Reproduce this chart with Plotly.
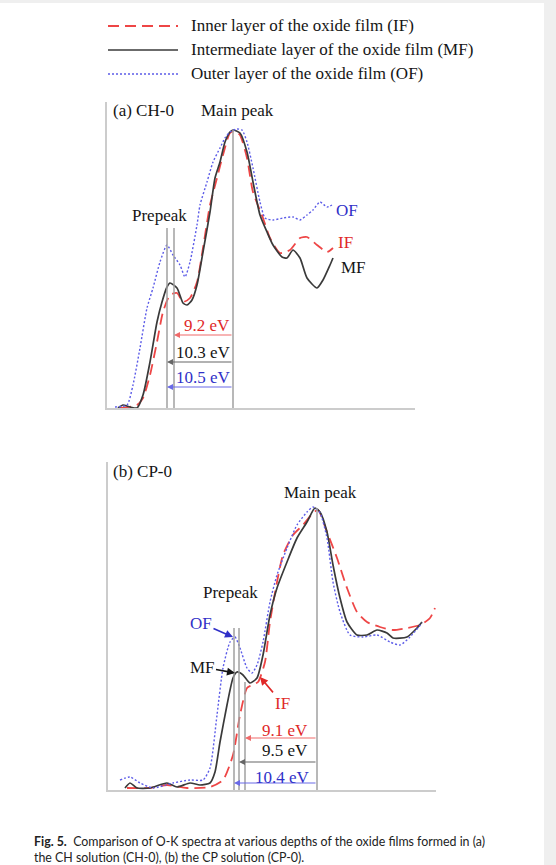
import plotly.graph_objects as go

W, H = 556, 865

# ---------------- Panel (a) CH-0 : arbitrary energy-loss units / arbitrary intensity
a_if_x = [13, 30, 36, 43, 50, 56, 63, 70, 76, 83, 90, 96, 103, 110, 116, 123, 128, 133, 140, 146, 156, 163, 173, 183, 193, 200, 210, 220, 226]
a_if_y = [0, 3, 10, 33, 66, 96, 113, 115, 106, 110, 126, 160, 203, 230, 253, 275, 277, 273, 250, 216, 190, 170, 155, 158, 170, 171, 163, 156, 160]
a_mf_x = [11, 16, 23, 30, 36, 43, 50, 55, 60, 63, 70, 76, 80, 85, 90, 96, 103, 108, 113, 118, 123, 126, 133, 140, 146, 153, 160, 166, 175, 180, 186, 193, 200, 210, 216, 223, 226]
a_mf_y = [0, 3, 1, 0, 13, 46, 86, 106, 121, 125, 120, 105, 103, 108, 123, 156, 196, 230, 246, 266, 276, 278, 275, 256, 226, 193, 176, 163, 151, 150, 158, 150, 130, 120, 128, 143, 150]
a_of_x = [8, 20, 26, 33, 40, 46, 53, 60, 66, 73, 78, 83, 90, 93, 100, 106, 113, 118, 123, 130, 135, 140, 146, 153, 158, 166, 176, 186, 193, 200, 206, 213, 220, 225]
a_of_y = [1, 3, 23, 60, 100, 120, 146, 163, 153, 143, 131, 146, 183, 203, 226, 246, 260, 270, 276, 279, 278, 266, 240, 206, 190, 188, 190, 191, 188, 193, 198, 206, 201, 203]

a_prepeak_lines = [60, 67]
a_prepeak_top = 180
a_main_x = 126
a_main_top = 278
a_shift_labels = ["9.2 eV", "10.3 eV", "10.5 eV"]
a_shift_tip = [67, 60, 60]
a_shift_y = [73, 46, 21]

# ---------------- Panel (b) CP-0
b_if_x = [19, 42, 59, 79, 102, 115, 125, 132, 139, 144, 150, 157, 162, 169, 175, 185, 195, 205, 210, 219, 229, 239, 249, 259, 272, 285, 299, 312, 322, 327]
b_if_y = [2, 2, 5, 2, 3, 10, 35, 75, 102, 105, 108, 128, 168, 208, 235, 255, 265, 277, 280, 258, 232, 202, 178, 168, 163, 160, 162, 165, 172, 182]
b_mf_x = [17, 22, 29, 42, 59, 69, 82, 92, 102, 107, 112, 119, 125, 129, 135, 142, 149, 155, 162, 169, 179, 189, 199, 207, 212, 219, 225, 232, 239, 249, 259, 269, 279, 285, 299, 309, 314]
b_mf_y = [2, 7, 2, 2, 7, 3, 7, 5, 7, 18, 48, 85, 112, 118, 115, 107, 112, 135, 175, 202, 228, 252, 268, 282, 278, 258, 225, 192, 168, 155, 155, 160, 157, 152, 153, 162, 168]
b_of_x = [12, 22, 32, 45, 65, 82, 95, 102, 109, 115, 122, 127, 132, 139, 144, 149, 155, 162, 169, 179, 189, 199, 205, 212, 219, 225, 232, 242, 255, 269, 282, 292, 302, 314]
b_of_y = [10, 13, 7, 2, 7, 10, 10, 22, 75, 122, 148, 153, 142, 122, 117, 125, 148, 188, 215, 242, 265, 278, 283, 277, 252, 208, 178, 155, 153, 155, 148, 145, 153, 167]

b_prepeak_lines = [126, 131, 137]
b_prepeak_top = [162, 162, 108]
b_main_x = 209
b_main_top = 282
b_shift_labels = ["9.1 eV", "9.5 eV", "10.4 eV"]
b_shift_tip = [137, 131, 126]
b_shift_y = [52, 28, 7]

series_names = ["Inner layer of the oxide film (IF)",
                "Intermediate layer of the oxide film (MF)",
                "Outer layer of the oxide film (OF)"]

RED, BLACK, BLUE = "#ee4646", "#3a3a3a", "#5c5ce8"
RED_T, BLACK_T, BLUE_T = "#e02828", "#151515", "#3030c8"
GRAY = "#a0a0a0"
AX = "#cccccc"
SERIF = "Liberation Serif, Times New Roman, serif"
FS = 17

styles = [dict(color=RED, width=1.8, dash="11px,6px"),
          dict(color=BLACK, width=1.7),
          dict(color=BLUE, width=1.4, dash="2px,2px")]

fig = go.Figure()
for (xs, ys), st in zip([(a_if_x, a_if_y), (a_mf_x, a_mf_y), (a_of_x, a_of_y)], styles):
    fig.add_trace(go.Scatter(x=xs, y=ys, mode="lines", line=dict(shape="spline", smoothing=0.6, **st),
                             xaxis="x", yaxis="y", showlegend=False, cliponaxis=False, hoverinfo="skip"))
for (xs, ys), st in zip([(b_if_x, b_if_y), (b_mf_x, b_mf_y), (b_of_x, b_of_y)], styles):
    fig.add_trace(go.Scatter(x=xs, y=ys, mode="lines", line=dict(shape="spline", smoothing=0.6, **st),
                             xaxis="x2", yaxis="y2", showlegend=False, cliponaxis=False, hoverinfo="skip"))

shapes = []
ann = []

def px(x):
    return x / W

def py(y):
    return 1 - y / H

# page background strips
shapes.append(dict(type="rect", xref="paper", yref="paper", x0=0, x1=1, y0=py(3), y1=1,
                   fillcolor="#efefef", line=dict(width=0), layer="below"))
shapes.append(dict(type="rect", xref="paper", yref="paper", x0=px(544), x1=1, y0=0, y1=1,
                   fillcolor="#efefef", line=dict(width=0), layer="below"))

# reference lines panel a
for xv in a_prepeak_lines:
    shapes.append(dict(type="line", xref="x", yref="y", x0=xv, x1=xv, y0=0, y1=a_prepeak_top,
                       line=dict(color=GRAY, width=1.5)))
shapes.append(dict(type="line", xref="x", yref="y", x0=a_main_x, x1=a_main_x, y0=0, y1=a_main_top,
                   line=dict(color=GRAY, width=1.5)))
# reference lines panel b
for xv, tv in zip(b_prepeak_lines, b_prepeak_top):
    shapes.append(dict(type="line", xref="x2", yref="y2", x0=xv, x1=xv, y0=0, y1=tv,
                       line=dict(color=GRAY, width=1.5)))
shapes.append(dict(type="line", xref="x2", yref="y2", x0=b_main_x, x1=b_main_x, y0=0, y1=b_main_top,
                   line=dict(color=GRAY, width=1.5)))

text_cols = [RED_T, BLACK_T, BLUE_T]
arrow_cols = ["#ef6a6a", "#666666", "#6a6ae8"]

# energy-shift arrows + labels
for lab, tip, yv, tc, acol in zip(a_shift_labels, a_shift_tip, a_shift_y, text_cols, arrow_cols):
    ann.append(dict(x=tip, y=yv, ax=a_main_x, ay=yv, xref="x", yref="y", axref="x", ayref="y",
                    text="", showarrow=True, arrowhead=2, arrowsize=1, arrowwidth=1.2, arrowcolor=acol))
    ann.append(dict(x=(a_main_x + tip) / 2 + 3, y=yv + 10, xref="x", yref="y", text=lab, showarrow=False,
                    font=dict(family=SERIF, size=FS, color=tc), xanchor="center", yanchor="middle"))
for lab, tip, yv, tc, acol in zip(b_shift_labels, b_shift_tip, b_shift_y, text_cols, arrow_cols):
    ann.append(dict(x=tip, y=yv, ax=b_main_x, ay=yv, xref="x2", yref="y2", axref="x2", ayref="y2",
                    text="", showarrow=True, arrowhead=2, arrowsize=1, arrowwidth=1.2, arrowcolor=acol))
for lab, xv, yv, tc in zip(b_shift_labels, [177, 177, 174], [60, 40, 13], text_cols):
    ann.append(dict(x=xv, y=yv, xref="x2", yref="y2", text=lab, showarrow=False,
                    font=dict(family=SERIF, size=FS, color=tc), xanchor="center", yanchor="middle"))

def label(x, y, t, ref, color=BLACK_T, xanchor="center", angle=0):
    xr, yr = ref
    ann.append(dict(x=x, y=y, xref=xr, yref=yr, text=t, showarrow=False, textangle=angle,
                    font=dict(family=SERIF, size=FS, color=color), xanchor=xanchor, yanchor="middle"))

A = ("x", "y")
B = ("x2", "y2")
label(4, 298, "(a) CH-0", A, xanchor="left")
label(130, 298, "Main peak", A)
label(52, 193, "Prepeak", A)
label(240, 198, "OF", A, BLUE_T)
label(238, 166, "IF", A, RED_T)
label(246, 141, "MF", A, BLACK_T)
label(156, -10, "Energy loss (eV)", A)
label(-15, 152, "Arbitrary Unit", A, angle=-90)

label(3, 318, "(b) CP-0", B, xanchor="left")
label(212, 297, "Main peak", B)
label(122, 198, "Prepeak", B)
label(165, -12, "Energy loss (eV)", B)
label(-16, 170, "Arbitrary Unit", B, angle=-90)

# pointer labels in panel b
for t, tx, ty, ax_, ay_, col in [("OF", 125, 153, -32, -14, BLUE_T),
                                 ("MF", 127, 117, -33, -6, BLACK_T),
                                 ("IF", 152, 113, 22, 26, RED_T)]:
    ann.append(dict(x=tx, y=ty, xref="x2", yref="y2", ax=ax_, ay=ay_, text=t, showarrow=True,
                    arrowhead=2, arrowsize=1, arrowwidth=1.6, arrowcolor=col,
                    font=dict(family=SERIF, size=FS, color=col)))

# legend (drawn manually)
leg_y = [26, 50, 74]
for name, st, yv in zip(series_names, styles, leg_y):
    shapes.append(dict(type="line", xref="paper", yref="paper", x0=px(108), x1=px(178), y0=py(yv), y1=py(yv),
                       line=dict(color=st["color"], width=st["width"], dash=st.get("dash", "solid"))))
    ann.append(dict(x=px(189), y=py(yv), xref="paper", yref="paper", text=name, showarrow=False,
                    font=dict(family=SERIF, size=FS, color=BLACK_T), xanchor="left", yanchor="middle"))

# caption
ann.append(dict(x=px(32), y=py(849), xref="paper", yref="paper", showarrow=False, align="left",
                xanchor="left", yanchor="middle",
                text="<b>Fig. 5.</b>  Comparison of O-K spectra at various depths of the oxide films formed in (a)"
                     "<br>the CH solution (CH-0), (b) the CP solution (CP-0).",
                font=dict(family="Lato, Roboto, sans-serif", size=12.4, color="#222222")))

axstyle = dict(showline=True, linecolor=AX, linewidth=2, showticklabels=False, ticks="",
               showgrid=False, zeroline=False, fixedrange=True)

fig.update_layout(
    width=W, height=H, margin=dict(l=0, r=0, t=0, b=0),
    paper_bgcolor="white", plot_bgcolor="white",
    xaxis=dict(domain=[px(107), px(415)], range=[0, 308], anchor="y", **axstyle),
    yaxis=dict(domain=[py(408), py(102)], range=[0, 306], anchor="x", **axstyle),
    xaxis2=dict(domain=[px(108), px(436)], range=[0, 328], anchor="y2", **axstyle),
    yaxis2=dict(domain=[py(790), py(462)], range=[0, 328], anchor="x2", **axstyle),
    shapes=shapes, annotations=ann, showlegend=False,
)

fig.write_html("out.html")
